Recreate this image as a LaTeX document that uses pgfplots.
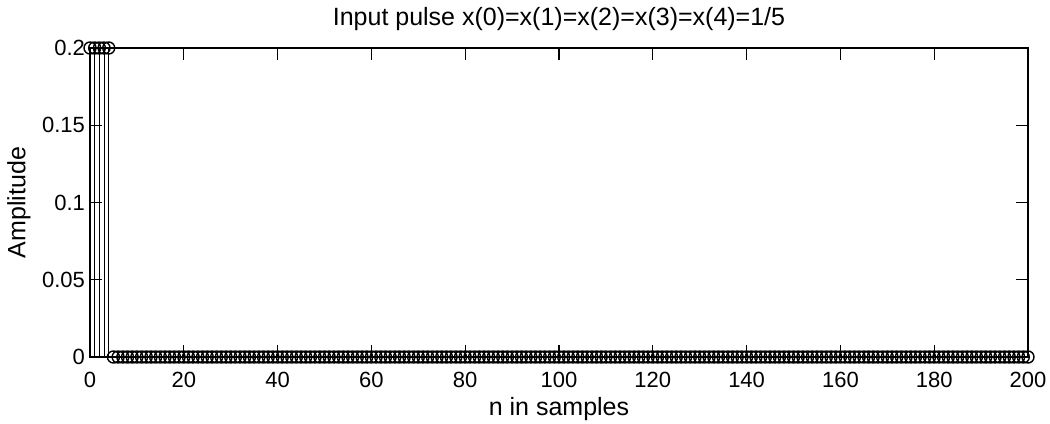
\documentclass[border=0pt]{standalone}
\usepackage{fontspec}
\setmainfont{Liberation Sans}
\usepackage{pgfplots}
\pgfplotsset{compat=1.18}
\begin{document}
\begin{tikzpicture}
\path[use as bounding box] (-45bp,-33.5bp) rectangle (480bp,178.5bp);
\begin{axis}[
  at={(0,0)}, anchor=south west,
  scale only axis, width=469bp, height=154.5bp,
  xmin=0, xmax=200, ymin=0, ymax=0.2,
  xtick={0,20,40,60,80,100,120,140,160,180,200},
  xticklabels={0,20,40,60,80,100,120,140,160,180,200},
  ytick={0,0.05,0.1,0.15,0.2},
  yticklabels={0,0.05,0.1,0.15,0.2},
  scaled y ticks=false,
  tick align=inside,
  major tick length=6bp,
  axis line style={line width=0.6bp},
  every tick/.style={black, line width=0.6bp},
  tick label style={font=\fontsize{11bp}{13bp}\selectfont},
  xticklabel style={yshift=-4bp},
  yticklabel style={xshift=1bp},
  label style={font=\fontsize{12.5bp}{15bp}\selectfont},
  xlabel={n in samples},
  xlabel style={at={(axis description cs:0.5,-0.19)}, anchor=base},
  ylabel={Amplitude},
  ylabel style={at={(axis description cs:-0.0757,0.5)}, anchor=center},
  clip=false,
]
\addplot+[ycomb, black, line width=0.5bp, mark=o, mark size=3bp, mark options={black, line width=0.7bp}] coordinates {
(0,0.2)(1,0.2)(2,0.2)(3,0.2)(4,0.2)(5,0)(6,0)(7,0)(8,0)(9,0)
(10,0)(11,0)(12,0)(13,0)(14,0)(15,0)(16,0)(17,0)(18,0)(19,0)
(20,0)(21,0)(22,0)(23,0)(24,0)(25,0)(26,0)(27,0)(28,0)(29,0)
(30,0)(31,0)(32,0)(33,0)(34,0)(35,0)(36,0)(37,0)(38,0)(39,0)
(40,0)(41,0)(42,0)(43,0)(44,0)(45,0)(46,0)(47,0)(48,0)(49,0)
(50,0)(51,0)(52,0)(53,0)(54,0)(55,0)(56,0)(57,0)(58,0)(59,0)
(60,0)(61,0)(62,0)(63,0)(64,0)(65,0)(66,0)(67,0)(68,0)(69,0)
(70,0)(71,0)(72,0)(73,0)(74,0)(75,0)(76,0)(77,0)(78,0)(79,0)
(80,0)(81,0)(82,0)(83,0)(84,0)(85,0)(86,0)(87,0)(88,0)(89,0)
(90,0)(91,0)(92,0)(93,0)(94,0)(95,0)(96,0)(97,0)(98,0)(99,0)
(100,0)(101,0)(102,0)(103,0)(104,0)(105,0)(106,0)(107,0)(108,0)(109,0)
(110,0)(111,0)(112,0)(113,0)(114,0)(115,0)(116,0)(117,0)(118,0)(119,0)
(120,0)(121,0)(122,0)(123,0)(124,0)(125,0)(126,0)(127,0)(128,0)(129,0)
(130,0)(131,0)(132,0)(133,0)(134,0)(135,0)(136,0)(137,0)(138,0)(139,0)
(140,0)(141,0)(142,0)(143,0)(144,0)(145,0)(146,0)(147,0)(148,0)(149,0)
(150,0)(151,0)(152,0)(153,0)(154,0)(155,0)(156,0)(157,0)(158,0)(159,0)
(160,0)(161,0)(162,0)(163,0)(164,0)(165,0)(166,0)(167,0)(168,0)(169,0)
(170,0)(171,0)(172,0)(173,0)(174,0)(175,0)(176,0)(177,0)(178,0)(179,0)
(180,0)(181,0)(182,0)(183,0)(184,0)(185,0)(186,0)(187,0)(188,0)(189,0)
(190,0)(191,0)(192,0)(193,0)(194,0)(195,0)(196,0)(197,0)(198,0)(199,0)
(200,0)
};
\node[anchor=base, font=\fontsize{12.5bp}{15bp}\selectfont, inner sep=0pt] at (rel axis cs:0.5,1.0744) {Input pulse x(0)=x(1)=x(2)=x(3)=x(4)=1/5};
\end{axis}
\end{tikzpicture}
\end{document}
